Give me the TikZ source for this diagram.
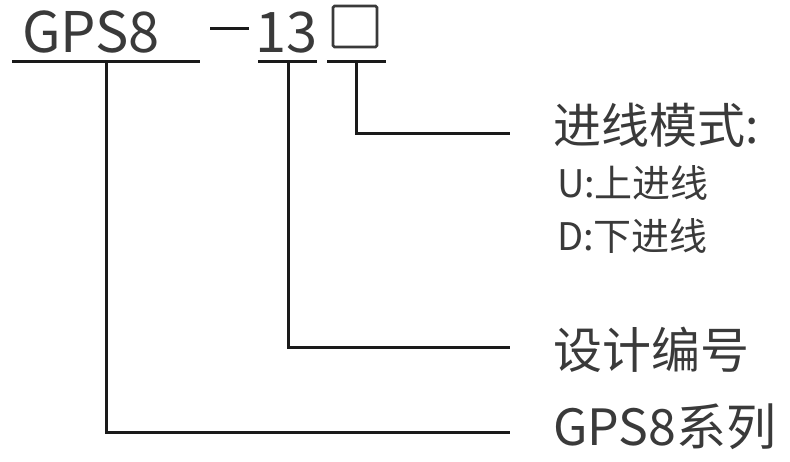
\documentclass[tikz,border=0pt]{standalone}
\usepackage{fontspec}
\setmainfont{Noto Sans CJK SC}
\definecolor{txt}{HTML}{3A3A3A}
\definecolor{ln}{HTML}{1A1A1A}
\tikzset{
  lbl/.style={inner sep=0pt, outer sep=0pt, text=txt, anchor=base west},
  conn/.style={draw=ln, line width=3pt, line cap=rect, line join=miter},
  bar/.style={draw=ln, line width=3pt},
}
\begin{document}
\begin{tikzpicture}[x=1pt,y=-1pt]
\useasboundingbox (0,0) rectangle (790,462);
% top code
\node[lbl, font=\fontsize{56}{56}\selectfont] (gps) at (22,53) {GPS8};
\node[lbl, font=\fontsize{56}{56}\selectfont] (num) at (255,53) {13};
\draw[bar] (210,29) -- (249,29);
\node[draw=txt, line width=2.7pt, rounded corners=1.5pt, minimum width=44pt, minimum height=41pt, inner sep=0pt] (box) at (355,26.5) {};
% underlines
\coordinate (u1a) at (12,62); \coordinate (u1b) at (200,62);
\coordinate (u2a) at (258,62); \coordinate (u2b) at (317,62);
\coordinate (u3a) at (327,62); \coordinate (u3b) at (386,62);
\draw[bar] (u1a) -- (u1b);
\draw[bar] (u2a) -- (u2b);
\draw[bar] (u3a) -- (u3b);
% right labels
\node[lbl, font=\fontsize{48}{48}\selectfont] (mode) at (553,144) {进线模式:};
\node[lbl, font=\fontsize{38}{38}\selectfont] (up) at (557,198) {U:上进线};
\node[lbl, font=\fontsize{38}{38}\selectfont] (down) at (557,251) {D:下进线};
\node[lbl, font=\fontsize{49}{49}\selectfont] (design) at (553,368) {设计编号};
\node[lbl, font=\fontsize{50}{50}\selectfont] (series) at (553,445) {GPS8系列};
% connectors
\coordinate (e3) at (508,134);
\coordinate (e2) at (508,348);
\coordinate (e1) at (508,432);
\draw[conn] (356,62) -- (356,134) -- (e3);
\draw[conn] (288,62) -- (288,348) -- (e2);
\draw[conn] (106,62) -- (106,432) -- (e1);
\end{tikzpicture}
\end{document}
